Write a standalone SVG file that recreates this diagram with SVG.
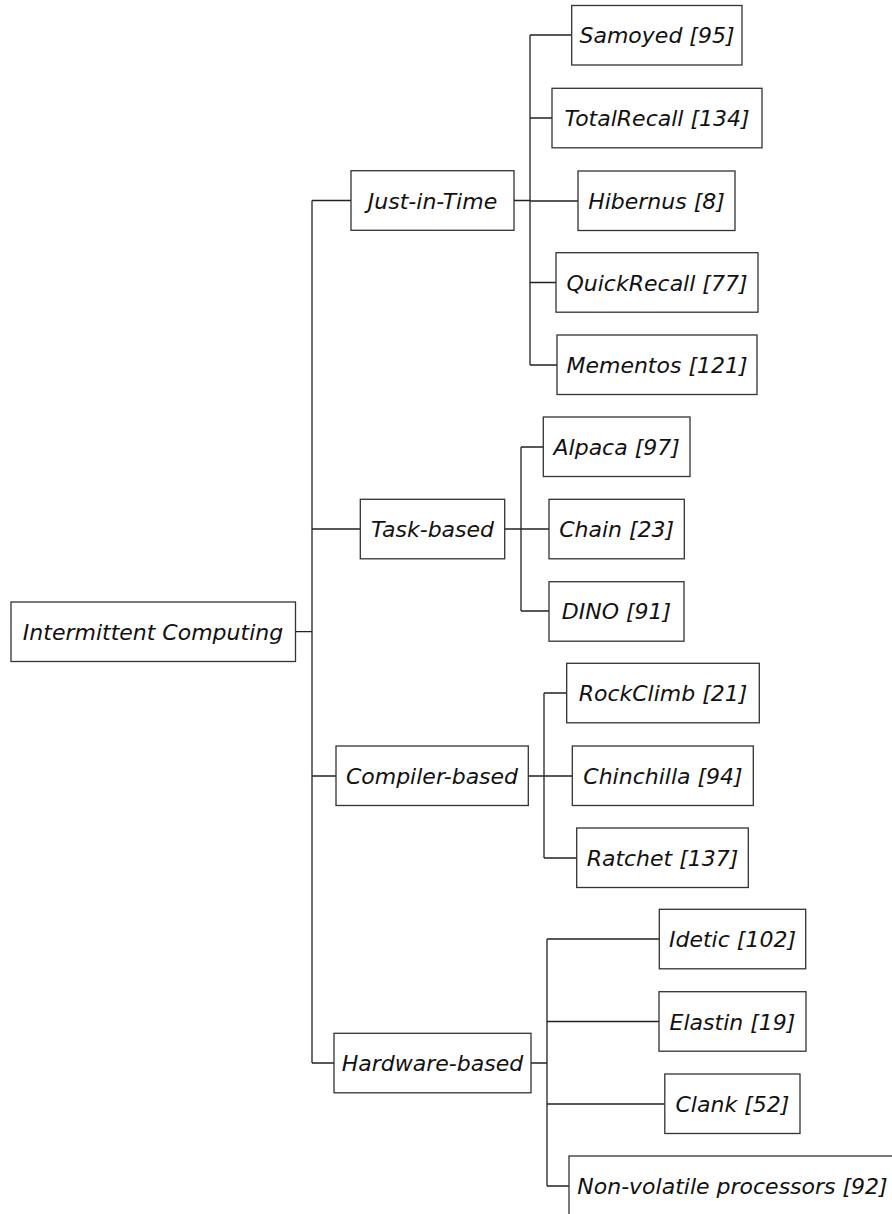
<svg xmlns="http://www.w3.org/2000/svg" width="892" height="1214" viewBox="0 0 892 1214">
<style>
.box{fill:#fff;stroke:#333;stroke-width:1.3}
.lbl{font-family:"DejaVu Sans",sans-serif;font-style:italic;font-size:22px;fill:#111;text-anchor:middle}
#connectors path{fill:none;stroke:#222;stroke-width:1.3}
</style>
<rect width="892" height="1214" fill="#fff"/>
<g id="connectors">
<path d="M295.5 631.7H312M312 200.5V1063M312 200.5H351M312 529H360.3M312 776H336M312 1063H334"/>
<path d="M514 200.5H530M530 35V365M530 35H571.7M530 118H552M530 201H578M530 282.5H556M530 365H557"/>
<path d="M504.7 529H521M521 447V611M521 447H543.3M521 529H549M521 611H549"/>
<path d="M528.3 776H544M544 693V858M544 693H566.7M544 776H572.3M544 858H576.7"/>
<path d="M531 1063H547M547 939V1186M547 939H659.3M547 1021.5H659M547 1104H664.8M547 1186H569"/>
</g>
<g id="root"><rect class="box" x="11" y="602" width="284.5" height="59.5"/><text class="lbl" x="153" y="640">Intermittent Computing</text></g>
<g id="jit"><rect class="box" x="351" y="170.7" width="163" height="59.6"/><text class="lbl" x="432.5" y="208.5">Just-in-Time</text></g>
<g id="task"><rect class="box" x="360.3" y="499.3" width="144.4" height="59.5"/><text class="lbl" x="432.5" y="537">Task-based</text></g>
<g id="compiler"><rect class="box" x="336" y="746" width="192.3" height="59.5"/><text class="lbl" x="432" y="784">Compiler-based</text></g>
<g id="hardware"><rect class="box" x="334" y="1033.3" width="197" height="59.5"/><text class="lbl" x="432.5" y="1071">Hardware-based</text></g>
<g id="samoyed"><rect class="box" x="571.7" y="5.5" width="170.3" height="59.5"/><text class="lbl" x="657" y="43">Samoyed [95]</text></g>
<g id="totalrecall"><rect class="box" x="552" y="88.3" width="210" height="59.5"/><text class="lbl" x="657" y="126">TotalRecall [134]</text></g>
<g id="hibernus"><rect class="box" x="578" y="171" width="157" height="59.5"/><text class="lbl" x="656.5" y="209">Hibernus [8]</text></g>
<g id="quickrecall"><rect class="box" x="556" y="252.7" width="202" height="59.5"/><text class="lbl" x="657" y="290.5">QuickRecall [77]</text></g>
<g id="mementos"><rect class="box" x="557" y="335" width="200" height="59.5"/><text class="lbl" x="657" y="373">Mementos [121]</text></g>
<g id="alpaca"><rect class="box" x="543.3" y="417" width="146.7" height="59.5"/><text class="lbl" x="616.7" y="455">Alpaca [97]</text></g>
<g id="chain"><rect class="box" x="549" y="499.3" width="135.3" height="59.5"/><text class="lbl" x="616.7" y="537">Chain [23]</text></g>
<g id="dino"><rect class="box" x="549" y="581.7" width="135" height="59.5"/><text class="lbl" x="616.5" y="619">DINO [91]</text></g>
<g id="rockclimb"><rect class="box" x="566.7" y="663.3" width="192.6" height="59.5"/><text class="lbl" x="663" y="701">RockClimb [21]</text></g>
<g id="chinchilla"><rect class="box" x="572.3" y="746" width="181" height="59.5"/><text class="lbl" x="663" y="784">Chinchilla [94]</text></g>
<g id="ratchet"><rect class="box" x="576.7" y="828" width="171.6" height="59.5"/><text class="lbl" x="662.5" y="866">Ratchet [137]</text></g>
<g id="idetic"><rect class="box" x="659.3" y="909.3" width="146.4" height="59.5"/><text class="lbl" x="732.5" y="947">Idetic [102]</text></g>
<g id="elastin"><rect class="box" x="659" y="991.7" width="147" height="59.5"/><text class="lbl" x="732.5" y="1029.5">Elastin [19]</text></g>
<g id="clank"><rect class="box" x="664.8" y="1074" width="135.2" height="59.5"/><text class="lbl" x="732.4" y="1112">Clank [52]</text></g>
<g id="nvp"><rect class="box" x="569" y="1156" width="327" height="59.6"/><text class="lbl" x="732.5" y="1194">Non-volatile processors [92]</text></g>
</svg>
